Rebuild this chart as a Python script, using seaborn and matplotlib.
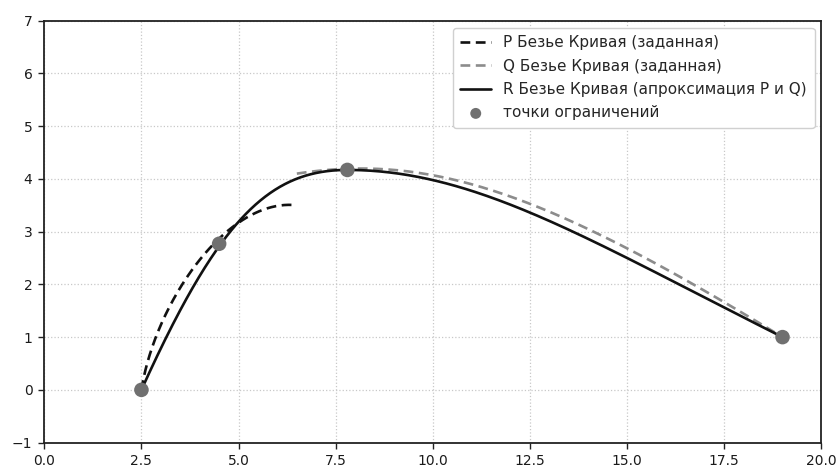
import numpy as np
import pandas as pd
import matplotlib
matplotlib.use("Agg")
import matplotlib.pyplot as plt
from matplotlib.bezier import BezierSegment
import seaborn as sns

# Control polygons of the given cubic Bezier curves
p_ctrl_x = [2.5, 2.85, 4.7, 6.5]
p_ctrl_y = [0.0, 1.65, 3.65, 3.5]

q_ctrl_x = [6.5, 10.0, 13.0, 19.0]
q_ctrl_y = [4.1, 4.5, 3.7, 1.0]

# Approximating curve R: two cubic pieces joined at the apex constraint point
r1_ctrl_x = [2.5, 4.5, 5.8, 7.8]
r1_ctrl_y = [0.0, 3.26, 4.17, 4.17]
r2_ctrl_x = [7.8, 11.1, 14.0, 19.0]
r2_ctrl_y = [4.17, 4.17, 2.85, 1.0]

# Constraint points the approximation passes through
pts_x = [2.5, 4.5, 7.8, 19.0]
pts_y = [0.0, 2.77, 4.17, 1.0]

labels = {
    "P": "P Безье Кривая (заданная)",
    "Q": "Q Безье Кривая (заданная)",
    "R": "R Безье Кривая (апроксимация P и Q)",
    "pts": "точки ограничений",
}


def bezier_frame(xs, ys, n=200):
    seg = BezierSegment(np.column_stack([xs, ys]))
    xy = seg(np.linspace(0.0, 1.0, n))
    return pd.DataFrame({"x": xy[:, 0], "y": xy[:, 1]})


p_df = bezier_frame(p_ctrl_x, p_ctrl_y)
q_df = bezier_frame(q_ctrl_x, q_ctrl_y)
r_df = pd.concat([bezier_frame(r1_ctrl_x, r1_ctrl_y),
                  bezier_frame(r2_ctrl_x, r2_ctrl_y).iloc[1:]],
                 ignore_index=True)
pts_df = pd.DataFrame({"x": pts_x, "y": pts_y})

sns.set_style("whitegrid", {
    "grid.linestyle": ":",
    "grid.color": "#c8c8c8",
    "axes.edgecolor": "#222222",
    "xtick.bottom": True,
    "ytick.left": True,
})
plt.rcParams["font.family"] = ["DejaVu Sans"]

fig = plt.figure(figsize=(8.39, 4.70), dpi=100)
ax = fig.add_axes([0.0528, 0.0583, 0.9262, 0.8977])

dash = (0, (3.7, 2.1))
sns.lineplot(data=p_df, x="x", y="y", sort=False, estimator=None, ax=ax,
             color="#111111", linestyle=dash, linewidth=1.9, label=labels["P"])
sns.lineplot(data=q_df, x="x", y="y", sort=False, estimator=None, ax=ax,
             color="#8c8c8c", linestyle=dash, linewidth=1.9, label=labels["Q"])
sns.lineplot(data=r_df, x="x", y="y", sort=False, estimator=None, ax=ax,
             color="#111111", linewidth=1.9, label=labels["R"])
sns.scatterplot(data=pts_df, x="x", y="y", ax=ax, color="#707070",
                s=110, edgecolor="none", zorder=5, label=labels["pts"])

ax.set_xlim(0, 20)
ax.set_ylim(-1, 7)
ax.set_xticks(np.arange(0, 20.1, 2.5))
ax.set_yticks(np.arange(-1, 8, 1))
ax.set_xlabel("")
ax.set_ylabel("")
ax.grid(True, linestyle=":", color="#c8c8c8", linewidth=0.9)
for s in ax.spines.values():
    s.set_color("#222222")
    s.set_linewidth(1.3)
ax.tick_params(axis="both", length=4, width=1.0, color="#222222",
               labelsize=10, labelcolor="#1a1a1a", direction="out", pad=4.5)

ax.legend(loc="upper right", fontsize=11, frameon=True, fancybox=True,
          edgecolor="#d0d0d0", framealpha=1.0, handlelength=2.0,
          borderpad=0.5, labelspacing=0.55, borderaxespad=0.45,
          markerscale=0.75)

fig.savefig("out.png", dpi=100)
